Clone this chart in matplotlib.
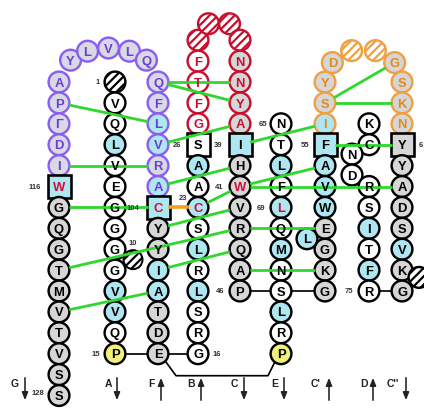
import numpy as np
import matplotlib
matplotlib.use("Agg")
import matplotlib.pyplot as plt
from matplotlib.patches import Circle, Rectangle

# ---------------- data: residue sequences (top -> bottom / left -> right) ----
# fill codes: w white, g gray, c cyan, y yellow, l lavender, h hatched
seq_G   = "APΓDIWGQGTMVTVSS";  fill_G   = "lllllcgggggggggg"
seq_pA  = "YLVLQ";             fill_pA  = "lllll"
seq_pR  = "QFLVRA";            fill_pR  = "llcclc"
seq_F   = "CYYIATDE";          fill_F   = "cggccggg"
seq_A   = "-VQLVEGGGGVVQP";    fill_A   = "hwwcwwwwwwccwy"
seq_rL  = "-FTFG";             fill_rL  = "hwwww"
seq_rA  = "--";                fill_rA  = "hh"
seq_rR  = "-NNYA";             fill_rR  = "hgggg"
seq_B   = "SAACSLRLSRG";       fill_B   = "wcwcwcwcwww"
seq_C   = "IHWVRQAP";          fill_C   = "cggggggg"
seq_D   = "NTLFLQMNSLRP";      fill_D   = "wwcwcwcwwcwy"
seq_oL  = "YSI";               fill_oL  = "ggc"
seq_oA  = "D--G";              fill_oA  = "ghhg"
seq_oR  = "SKN";               fill_oR  = "ggg"
seq_E   = "FAVWEGKG";          fill_E   = "ccccgggg"
seq_Eb  = "L";                 fill_Eb  = "c"
seq_C2  = "KC";                fill_C2  = "ww"
seq_Nb  = "ND";                fill_Nb  = "ww"
seq_C2b = "RSITFR";            fill_C2b = "wwcwcw"
seq_Rt  = "YYADSVKG";          fill_Rt  = "gggggcgg"
seq_Rh  = "-";                 fill_Rh  = "h"

red_letters = {("G", 5), ("F", 0), ("B", 3), ("C", 2), ("D", 4)}
squares = {("G", 5), ("F", 0), ("B", 0), ("C", 0), ("E", 0), ("Rt", 0)}

strand_labels = ["G", "A", "F", "B", "C", "E", "C'", "D", "C''"]
strand_dirs   = ["down", "down", "up", "up", "down", "down", "up", "up", "down"]

# green contacts: (strand, index) pairs
green_pairs = [
    (("pR", 0), ("rR", 2)), (("pR", 0), ("rR", 3)),
    (("G", 1), ("pR", 2)), (("pR", 3), ("rR", 4)),
    (("G", 4), ("pR", 4)), (("pR", 5), ("C", 1)),
    (("G", 6), ("F", 0)), (("B", 3), ("C", 2)),
    (("F", 1), ("C", 3)),
    (("G", 9), ("C", 4)),
    (("G", 11), ("F", 4)), (("F", 3), ("C", 5)),
    (("C", 0), ("oL", 2)), (("C", 2), ("E", 1)),
    (("C", 2), ("Rt", 2)), (("E", 0), ("Rt", 0)),
    (("oL", 1), ("oA", 3)), (("oL", 1), ("oR", 1)),
    (("C", 4), ("E", 4)), (("C", 6), ("E", 6)),
]
orange_pairs = [(("F", 0), ("B", 3))]
black_pairs = [(("A", 13), ("F", 7)), (("F", 7), ("B", 10)),
               (("C", 7), ("E", 7)), (("C2b", 5), ("Rt", 7))]

# ---------------- layout ----------------
ROW0, DY = 83.0, 20.9
def ry(k):
    return ROW0 + DY * k

pos = {}
def column(name, x, r0, n, dx=0.0):
    pos[name] = [(x + dx, ry(r0 + i)) for i in range(n)]
def arch(name, cx, cy, a, b, n, step=None):
    if step is None:
        ang = np.linspace(180, 0, n + 2)[1:-1]
    else:
        ang = 90 + step * (np.arange(n)[::-1] - (n - 1) / 2)
    ang = np.radians(ang)
    pos[name] = [(cx + a * np.cos(t), cy - b * np.sin(t)) for t in ang]

XG, XA, XF, XB, XC, XD, XE, XC2, XR = 59, 115, 158, 198, 240, 281, 325, 369, 402
column("G", XG, 0, len(seq_G))
arch("pA", (XG + XF) / 2, ry(0), (XF - XG) / 2, 34, len(seq_pA), step=25)
column("pR", XF, 0, len(seq_pR))
column("F", XF, 6, len(seq_F))
column("A", XA, 0, len(seq_A))
column("rL", XB, -2, len(seq_rL))
arch("rA", (XB + XC) / 2, ry(-2), (XC - XB) / 2, 19, len(seq_rA))
column("rR", XC, -2, len(seq_rR))
column("B", XB, 3, len(seq_B))
column("C", XC, 3, len(seq_C))
column("D", XD, 2, len(seq_D))
column("oL", XE, 0, len(seq_oL))
arch("oA", (XE + XR) / 2, ry(0), (XR - XE) / 2, 33, len(seq_oA))
column("oR", XR, 0, len(seq_oR))
column("E", XE, 3, len(seq_E))
column("Eb", XE, 7.5, 1, dx=-18)
column("C2", XC2, 2, len(seq_C2))
column("Nb", XC2, 3.45, 2, dx=-17)
column("C2b", XC2, 5, len(seq_C2b))
column("Rt", XR, 3, len(seq_Rt))
column("Rh", XR, 9.35, 1, dx=17)

strands = {
    "G": (seq_G, fill_G), "pA": (seq_pA, fill_pA), "pR": (seq_pR, fill_pR),
    "F": (seq_F, fill_F), "A": (seq_A, fill_A), "rL": (seq_rL, fill_rL),
    "rA": (seq_rA, fill_rA), "rR": (seq_rR, fill_rR), "B": (seq_B, fill_B),
    "C": (seq_C, fill_C), "D": (seq_D, fill_D), "oL": (seq_oL, fill_oL),
    "oA": (seq_oA, fill_oA), "oR": (seq_oR, fill_oR), "E": (seq_E, fill_E),
    "Eb": (seq_Eb, fill_Eb), "C2": (seq_C2, fill_C2), "Nb": (seq_Nb, fill_Nb),
    "C2b": (seq_C2b, fill_C2b), "Rt": (seq_Rt, fill_Rt), "Rh": (seq_Rh, fill_Rh),
}

PURPLE_E, PURPLE_T = "#8a5ff0", "#6a3fd0"
RED_E = "#c8102e"
ORANGE_E, ORANGE_T = "#f0a040", "#e08a20"
FILLS = {"w": "white", "g": "#d6d6d6", "c": "#aee6f2", "y": "#f0f07a",
         "l": "#d8d8e6", "h": "white"}
def scheme(name, i):
    if name == "G" and i < 5:
        return PURPLE_E, PURPLE_T
    if name in ("pA", "pR"):
        return PURPLE_E, PURPLE_T
    if name in ("rL", "rA", "rR"):
        return RED_E, RED_E
    if name in ("oL", "oA", "oR"):
        return ORANGE_E, ORANGE_T
    return "black", "black"

plt.rcParams["hatch.linewidth"] = 1.6
fig = plt.figure(figsize=(4.24, 4.10), dpi=100)
ax = fig.add_axes([0, 0, 1, 1])
ax.set_xlim(0, 424)
ax.set_ylim(410, 0)
ax.axis("off")

R = 10.4
PX = 0.72  # points per pixel

def P(ref):
    return pos[ref[0]][ref[1]]

def seg(p, q, shrink=R):
    p, q = np.array(p, float), np.array(q, float)
    d = q - p
    u = d / np.linalg.norm(d)
    return p + u * shrink, q - u * shrink

# residues
for name, (seq, fills) in strands.items():
    for i, (x, y) in enumerate(pos[name]):
        ec, tc = scheme(name, i)
        f = fills[i]
        if (name, i) in squares:
            ax.add_patch(Rectangle((x - 11.5, y - 11.5), 23, 23, fc=FILLS[f],
                                   ec="black", lw=2.6 * PX, zorder=2))
        else:
            ax.add_patch(Circle((x, y), R, fc=FILLS[f], ec=ec, lw=2.4 * PX,
                                zorder=2, hatch="////" if f == "h" else None))
        ch = seq[i]
        if ch != "-":
            col = "#d0103a" if (name, i) in red_letters else tc
            ax.text(x, y + 0.6, ch, ha="center", va="center", fontsize=9.4,
                    fontweight="bold", color=col, family="Liberation Sans",
                    zorder=5)

# connections
for a, b in green_pairs:
    p, q = seg(P(a), P(b))
    ax.plot([p[0], q[0]], [p[1], q[1]], color="#2fd82f", lw=2.8 * PX,
            zorder=3, solid_capstyle="butt")
for a, b in orange_pairs:
    p, q = seg(P(a), P(b), 11.5)
    ax.plot([p[0], q[0]], [p[1], q[1]], color="#f5a020", lw=3.6 * PX, zorder=3)
for a, b in black_pairs:
    p, q = seg(P(a), P(b))
    ax.plot([p[0], q[0]], [p[1], q[1]], color="black", lw=1.7 * PX, zorder=1)
# long link E -> P under the sheet
e = np.array(P(("F", 7)))
pp = np.array(P(("D", 11)))
ybot = ry(13) + 22
path_x = [e[0] + 7, e[0] + 18, pp[0] - 13, pp[0] - 6]
path_y = [e[1] + 7, ybot, ybot, pp[1] + 8]
ax.plot(path_x, path_y, color="black", lw=1.7 * PX, zorder=1)

# numbering labels
num_labels = [("1", ("A", 0), -17, 0), ("116", ("G", 5), -24, 0),
              ("26", ("pR", 3), 19, 0), ("39", ("B", 0), 20, 0),
              ("23", ("B", 3), -15, -10), ("104", ("F", 0), -25, 0),
              ("41", ("C", 2), -21, 0), ("65", ("D", 0), -18, 0),
              ("55", ("E", 0), -20, 0), ("69", ("D", 4), -20, 0),
              ("46", ("C", 7), -20, 0), ("15", ("A", 13), -19, 0),
              ("16", ("B", 10), 19, 0), ("75", ("C2b", 5), -20, 0),
              ("6", ("Rt", 0), 19, 0), ("128", ("G", 15), -21, -3)]
for t, ref, dx, dy in num_labels:
    x, y = P(ref)
    ax.text(x + dx, y + dy, t, ha="center", va="center", fontsize=5.5,
            fontweight="bold", color="#333333", family="Liberation Sans", zorder=5)
x10, y10 = 133, ry(8.5)
ax.add_patch(Circle((x10, y10), 9.5, fc="white", ec="black", lw=2.0 * PX,
                    hatch="////", zorder=2.5))
ax.text(x10, y10 - 17, "10", ha="center", va="center", fontsize=5.5,
        fontweight="bold", color="#333333", family="Liberation Sans")

# strand names and arrows
lab_x = [15, 108, 151, 191, 234, 275, 316, 364, 393]
arr_x = [25, 117, 161, 201, 244, 284, 329, 373, 406]
for t, d, lx, axx in zip(strand_labels, strand_dirs, lab_x, arr_x):
    ax.text(lx, 384, t, ha="center", va="center", fontsize=7.5,
            fontweight="bold", family="Liberation Sans", color="#222222")
    y0, y1 = (376, 404) if d == "down" else (404, 376)
    ax.annotate("", xy=(axx, y1), xytext=(axx, y0),
                arrowprops=dict(arrowstyle="-|>,head_width=0.18,head_length=0.45",
                                lw=1.6 * PX, color="#222222"))

fig.savefig("out.png", dpi=100)
